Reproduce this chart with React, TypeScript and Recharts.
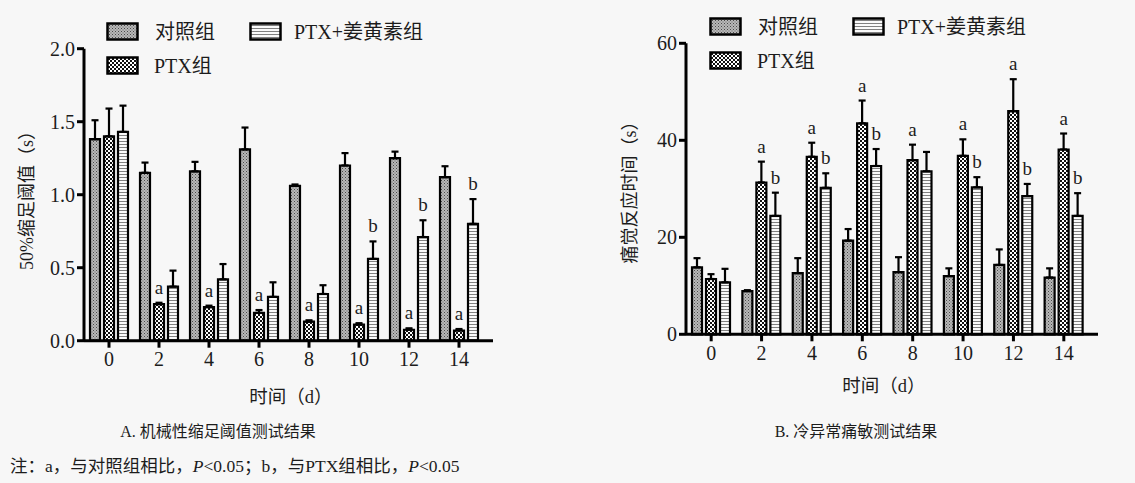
import { BarChart, Bar, XAxis, YAxis, ErrorBar, LabelList } from 'recharts';

const days = ['0', '2', '4', '6', '8', '10', '12', '14'];

// A. 机械性缩足阈值
const ctrlA = [1.38, 1.15, 1.16, 1.31, 1.06, 1.2, 1.25, 1.12];
const ctrlAErr = [0.13, 0.07, 0.065, 0.15, 0.01, 0.085, 0.045, 0.075];
const ptxA = [1.4, 0.25, 0.23, 0.19, 0.13, 0.11, 0.075, 0.07];
const ptxAErr = [0.19, 0.01, 0.01, 0.02, 0.01, 0.01, 0.01, 0.01];
const curA = [1.43, 0.37, 0.42, 0.3, 0.32, 0.56, 0.71, 0.8];
const curAErr = [0.18, 0.11, 0.105, 0.1, 0.06, 0.12, 0.115, 0.17];
const ptxAMarks = ['', 'a', 'a', 'a', 'a', 'a', 'a', 'a'];
const curAMarks = ['', '', '', '', '', 'b', 'b', 'b'];
const ticksA = [0, 0.5, 1, 1.5, 2];

// B. 冷异常痛敏
const ctrlB = [13.8, 8.9, 12.6, 19.3, 12.8, 12.0, 14.3, 11.7];
const ctrlBErr = [1.9, 0.2, 3.1, 2.4, 3.1, 1.6, 3.2, 1.9];
const ptxB = [11.4, 31.3, 36.6, 43.5, 35.9, 36.8, 46.0, 38.1];
const ptxBErr = [1.0, 4.3, 2.9, 4.7, 3.2, 3.4, 6.6, 3.3];
const curB = [10.7, 24.4, 30.2, 34.7, 33.6, 30.3, 28.5, 24.4];
const curBErr = [2.8, 4.8, 3.0, 3.5, 4.0, 2.1, 2.5, 4.7];
const ptxBMarks = ['', 'a', 'a', 'a', 'a', 'a', 'a', 'a'];
const curBMarks = ['', 'b', 'b', 'b', '', 'b', 'b', 'b'];
const ticksB = [0, 20, 40, 60];

const FONT = "'Liberation Serif', 'Noto Sans CJK SC', serif";
const INK = '#1c1c1c';

const buildRows = (c: number[], ce: number[], p: number[], pe: number[], u: number[], ue: number[]) =>
  days.map((d, i) => ({
    day: d,
    ctrl: c[i],
    ctrlErr: [0, ce[i]],
    ptx: p[i],
    ptxErr: [0, pe[i]],
    cur: u[i],
    curErr: [0, ue[i]],
  }));

const markLabel = (marks: string[], vals: number[], errs: number[]) => (props: any) => {
  const i = props.index;
  const m = marks[i];
  if (!m) return null;
  const x = Number(props.x);
  const y = Number(props.y);
  const w = Number(props.width);
  const h = Number(props.height);
  const errPx = vals[i] ? (errs[i] / vals[i]) * h : 0;
  return (
    <text x={x + w / 2} y={y - errPx - 9} textAnchor='middle' fontSize={19} fontFamily={FONT} fill={INK}>
      {m}
    </text>
  );
};

const Patterns = () => (
  <svg width={0} height={0} style={{ position: 'absolute' }}>
    <defs>
      <pattern id='pCtrl' width='3' height='3' patternUnits='userSpaceOnUse'>
        <rect width='3' height='3' fill='#b8b8b8' />
        <rect width='1' height='1' fill='#4a4a4a' />
        <rect x='1.5' y='1.5' width='1' height='1' fill='#666' />
      </pattern>
      <pattern id='pPtx' width='4' height='4' patternUnits='userSpaceOnUse'>
        <rect width='4' height='4' fill='#fff' />
        <rect width='2' height='2' fill='#111' />
        <rect x='2' y='2' width='2' height='2' fill='#111' />
      </pattern>
      <pattern id='pCur' width='4' height='3' patternUnits='userSpaceOnUse'>
        <rect width='4' height='3' fill='#fafafa' />
        <rect width='4' height='1' fill='#808080' />
      </pattern>
    </defs>
  </svg>
);

const Swatch = ({ fill, x, y }: { fill: string; x: number; y: number }) => (
  <svg width={34} height={20} style={{ position: 'absolute', left: x - 2, top: y - 2 }}>
    <rect x={1.5} y={1.5} width={30} height={16} fill={`url(#${fill})`} stroke='#000' strokeWidth={2.5} />
  </svg>
);

const Txt = ({ x, y, children, size = 20, style = {} }: any) => (
  <div
    style={{
      position: 'absolute',
      left: x,
      top: y,
      fontSize: size,
      fontFamily: FONT,
      color: INK,
      whiteSpace: 'nowrap',
      lineHeight: 1,
      ...style,
    }}
  >
    {children}
  </div>
);

const Legend = ({ x, y }: { x: number; y: number }) => (
  <>
    <Swatch fill='pCtrl' x={x} y={y} />
    <Txt x={x + 47} y={y - 2}>对照组</Txt>
    <Swatch fill='pPtx' x={x} y={y + 34} />
    <Txt x={x + 46} y={y + 32}>PTX组</Txt>
    <Swatch fill='pCur' x={x + 143} y={y} />
    <Txt x={x + 186} y={y - 2}>PTX+姜黄素组</Txt>
  </>
);

const Panel = ({ rows, vals, marks, domain, ticks, fmt, width, margin, yWidth }: any) => (
  <BarChart width={width} height={420} data={rows} margin={margin} barSize={10} barGap={4}>
    <XAxis
      dataKey='day'
      height={30}
      padding={{ left: 0, right: 9 }}
      axisLine={{ stroke: '#000', strokeWidth: 3 }}
      tickLine={{ stroke: '#000', strokeWidth: 3 }}
      tickSize={7}
      tickMargin={4}
      tick={{ fontSize: 20, fontFamily: FONT, fill: INK }}
    />
    <YAxis
      width={yWidth}
      domain={domain}
      ticks={ticks}
      tickFormatter={fmt}
      axisLine={{ stroke: '#000', strokeWidth: 3 }}
      tickLine={{ stroke: '#000', strokeWidth: 3 }}
      tickSize={7}
      tickMargin={2}
      tick={{ fontSize: 20, fontFamily: FONT, fill: INK }}
    />
    <Bar dataKey='ctrl' fill='url(#pCtrl)' stroke='#000' strokeWidth={2.2} isAnimationActive={false}>
      <ErrorBar dataKey='ctrlErr' width={3.5} stroke='#000' strokeWidth={2.2} direction='y' />
    </Bar>
    <Bar dataKey='ptx' fill='url(#pPtx)' stroke='#000' strokeWidth={2.2} isAnimationActive={false}>
      <ErrorBar dataKey='ptxErr' width={3.5} stroke='#000' strokeWidth={2.2} direction='y' />
      <LabelList dataKey='ptx' content={markLabel(marks[0], vals[0], vals[1])} />
    </Bar>
    <Bar dataKey='cur' fill='url(#pCur)' stroke='#000' strokeWidth={2.2} isAnimationActive={false}>
      <ErrorBar dataKey='curErr' width={3.5} stroke='#000' strokeWidth={2.2} direction='y' />
      <LabelList dataKey='cur' content={markLabel(marks[1], vals[2], vals[3])} />
    </Bar>
  </BarChart>
);

const App = () => {
  const rowsA = buildRows(ctrlA, ctrlAErr, ptxA, ptxAErr, curA, curAErr);
  const rowsB = buildRows(ctrlB, ctrlBErr, ptxB, ptxBErr, curB, curBErr);
  return (
    <div
      style={{
        position: 'absolute',
        left: 0,
        top: 0,
        width: 1135,
        height: 483,
        background: '#f7f7f7',
        overflow: 'hidden',
      }}
    >
      <Patterns />
      <div style={{ position: 'absolute', left: 0, top: 0 }}>
        <Panel
          rows={rowsA}
          vals={[ptxA, ptxAErr, curA, curAErr]}
          marks={[ptxAMarks, curAMarks]}
          domain={[0, 2]}
          ticks={ticksA}
          fmt={(v: number) => v.toFixed(1)}
          width={560}
          yWidth={84}
          margin={{ top: 48.7, right: 67, left: 0, bottom: 49.3 }}
        />
      </div>
      <div style={{ position: 'absolute', left: 580, top: 0 }}>
        <Panel
          rows={rowsB}
          vals={[ptxB, ptxBErr, curB, curBErr]}
          marks={[ptxBMarks, curBMarks]}
          domain={[0, 60]}
          ticks={ticksB}
          fmt={(v: number) => String(v)}
          width={555}
          yWidth={106}
          margin={{ top: 43.3, right: 37, left: 0, bottom: 55.7 }}
        />
      </div>

      <Legend x={108} y={24} />
      <Legend x={711} y={19} />

      <Txt x={27} y={196} size={18} style={{ transform: 'translate(-50%, -50%) rotate(-90deg)' }}>
        50%缩足阈值（s）
      </Txt>
      <Txt x={630} y={188} size={18} style={{ transform: 'translate(-50%, -50%) rotate(-90deg)' }}>
        痛觉反应时间（s）
      </Txt>

      <Txt x={291} y={397} size={18.5} style={{ transform: 'translate(-50%, -50%)' }}>
        时间（d）
      </Txt>
      <Txt x={884} y={386} size={18.5} style={{ transform: 'translate(-50%, -50%)' }}>
        时间（d）
      </Txt>

      <Txt x={218} y={432} size={16} style={{ transform: 'translate(-50%, -50%)' }}>
        A. 机械性缩足阈值测试结果
      </Txt>
      <Txt x={856} y={432} size={16} style={{ transform: 'translate(-50%, -50%)' }}>
        B. 冷异常痛敏测试结果
      </Txt>

      <Txt x={10} y={458} size={17.5}>
        注：a，与对照组相比，<i>P</i>&lt;0.05；b，与PTX组相比，<i>P</i>&lt;0.05
      </Txt>
    </div>
  );
};

export default App;
